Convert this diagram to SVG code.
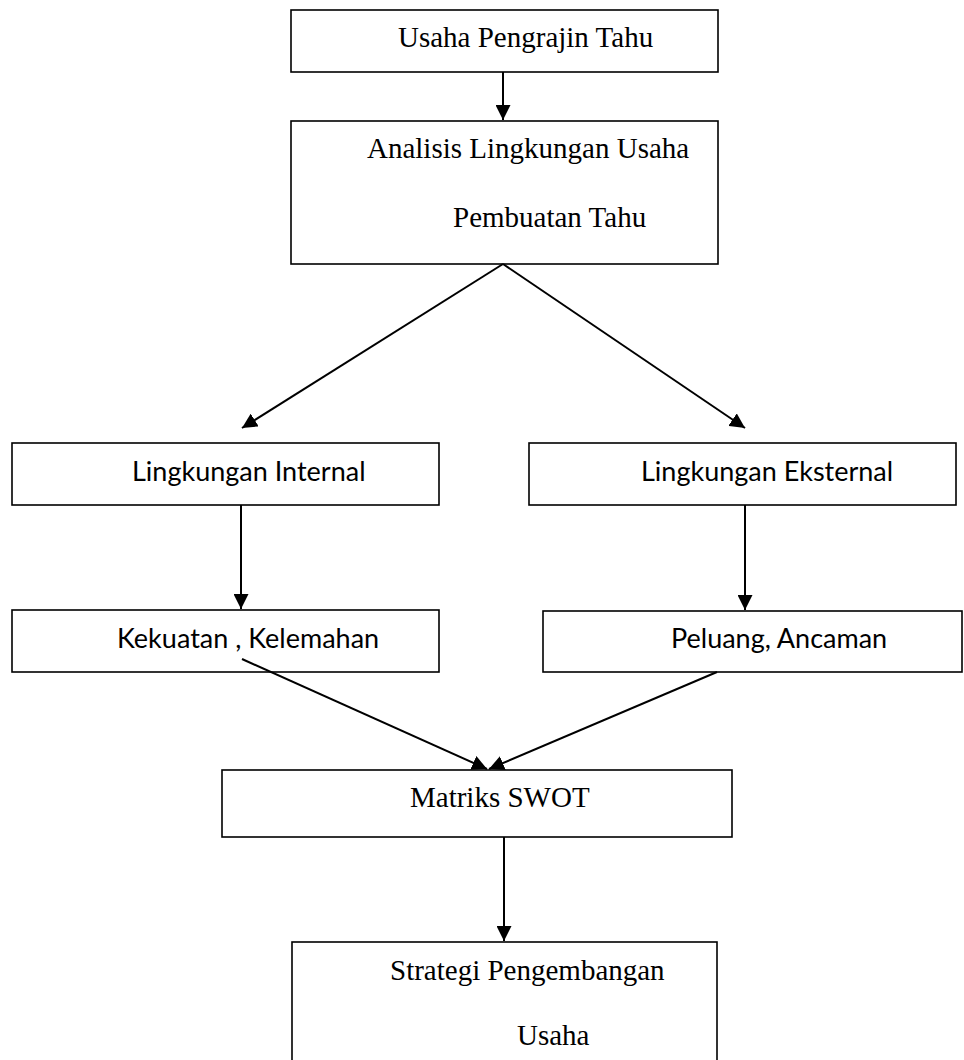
<svg xmlns="http://www.w3.org/2000/svg" width="964" height="1060" viewBox="0 0 964 1060">
<style>
.box{fill:#fff;stroke:#000;stroke-width:1.6}
.serif{font-family:"Liberation Serif","Times New Roman",serif;font-size:29px;fill:#000}
.sans{font-family:Lato,"Liberation Sans",sans-serif;font-size:27px;fill:#000}
.conn{stroke:#000;stroke-width:2;fill:none;marker-end:url(#ah)}
</style>
<defs>
<marker id="ah" markerUnits="userSpaceOnUse" markerWidth="16" markerHeight="15" refX="15" refY="7.5" orient="auto">
<path d="M0,0 L15,7.5 L0,15 Z" fill="#000"/>
</marker>
</defs>
<rect width="964" height="1060" fill="#fff"/>
<g id="n1">
<rect class="box" x="291" y="10" width="427" height="62"/>
<text class="serif" x="398" y="47">Usaha Pengrajin Tahu</text>
</g>
<g id="n2">
<rect class="box" x="291" y="121" width="427" height="143"/>
<text class="serif" x="367" y="158">Analisis Lingkungan Usaha</text>
<text class="serif" x="453" y="227">Pembuatan Tahu</text>
</g>
<g id="n3">
<rect class="box" x="12" y="443" width="427" height="62"/>
<text class="sans" x="132" y="481">Lingkungan Internal</text>
</g>
<g id="n4">
<rect class="box" x="529" y="443" width="427" height="62"/>
<text class="sans" x="641" y="481">Lingkungan Eksternal</text>
</g>
<g id="n5">
<rect class="box" x="12" y="610" width="427" height="62"/>
<text class="sans" x="117" y="648">Kekuatan , Kelemahan</text>
</g>
<g id="n6">
<rect class="box" x="543" y="611" width="419" height="61"/>
<text class="sans" x="671" y="648">Peluang, Ancaman</text>
</g>
<g id="n7">
<rect class="box" x="222" y="770" width="510" height="67"/>
<text class="serif" x="410" y="807">Matriks SWOT</text>
</g>
<g id="n8">
<rect class="box" x="292" y="942" width="425" height="130"/>
<text class="serif" x="390" y="980">Strategi Pengembangan</text>
<text class="serif" x="517" y="1045">Usaha</text>
</g>
<g id="connectors">
<line class="conn" x1="503" y1="72" x2="503" y2="120"/>
<line class="conn" x1="503" y1="264" x2="242" y2="428"/>
<line class="conn" x1="503" y1="264" x2="745" y2="428"/>
<line class="conn" x1="241" y1="505" x2="241" y2="609"/>
<line class="conn" x1="745" y1="505" x2="745" y2="610"/>
<line class="conn" x1="242" y1="659" x2="487" y2="769"/>
<line class="conn" x1="717" y1="672" x2="489" y2="769"/>
<line class="conn" x1="504" y1="837" x2="504" y2="941"/>
</g>
</svg>
